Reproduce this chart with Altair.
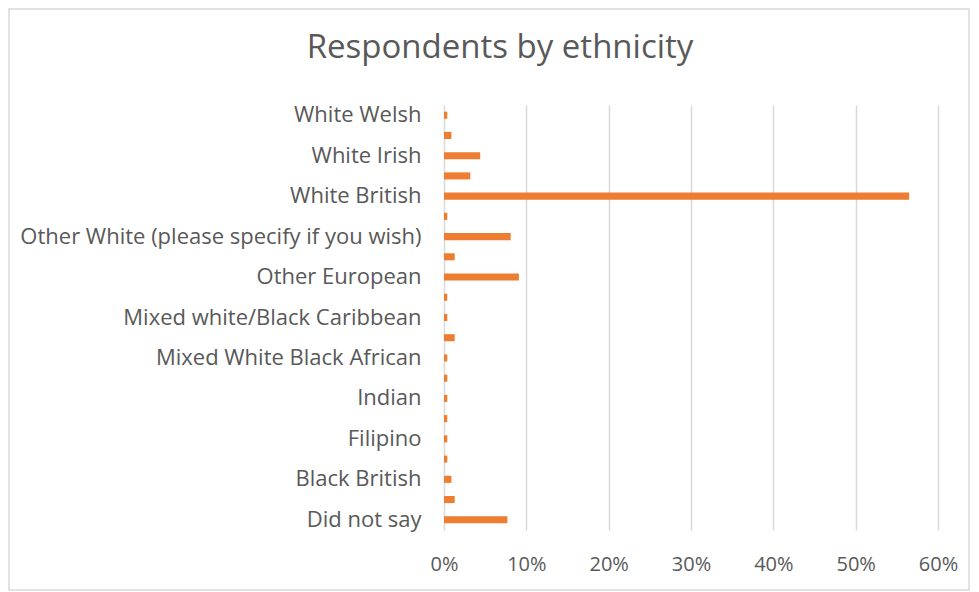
import altair as alt
import pandas as pd

categories = [
    "White Welsh", "White Scottish", "White Irish", "White English", "White British",
    "White Gypsy or Irish Traveller", "Other White (please specify if you wish)", "Other Mixed",
    "Other European", "Other Asian", "Mixed white/Black Caribbean", "Mixed White and Asian",
    "Mixed White Black African", "Japanese", "Indian", "Chinese", "Filipino", "Bangladeshi",
    "Black British", "Black African", "Did not say",
]
shown = [
    "White Welsh", "White Irish", "White British", "Other White (please specify if you wish)",
    "Other European", "Mixed white/Black Caribbean", "Mixed White Black African", "Indian",
    "Filipino", "Black British", "Did not say",
]
values = [0.004, 0.009, 0.044, 0.032, 0.565, 0.004, 0.081, 0.013, 0.091, 0.004, 0.004,
          0.013, 0.004, 0.004, 0.004, 0.004, 0.004, 0.004, 0.009, 0.013, 0.077]
x_ticks = [0, 0.1, 0.2, 0.3, 0.4, 0.5, 0.6]

df = pd.DataFrame({"cat": categories, "val": values})

W, H = 494, 425
FONT = "Open Sans"
GREY = "#595959"

label_expr = "indexof(" + str(shown).replace('"', "'") + ", datum.value) >= 0 ? datum.label : ''"

bars = alt.Chart(df).mark_bar(color="#ED7D31").encode(
    x=alt.X("val:Q", scale=alt.Scale(domain=[0, 0.6], nice=False),
            axis=alt.Axis(values=x_ticks, format=".0%", title=None, grid=True,
                          gridColor="#d9d9d9", gridWidth=1.5, domain=False, ticks=False,
                          labelFont=FONT, labelFontSize=20, labelColor=GREY,
                          labelFlush=False, labelPadding=24)),
    y=alt.Y("cat:N", sort=categories,
            scale=alt.Scale(paddingInner=0.65, paddingOuter=0.33),
            axis=alt.Axis(title=None, domain=False, ticks=False, grid=False,
                          labelExpr=label_expr, labelFont=FONT, labelFontSize=22,
                          labelColor=GREY, labelPadding=23, labelLimit=500)),
)

title = alt.Chart(pd.DataFrame({"t": ["Respondents by ethnicity"]})).mark_text(
    font=FONT, fontSize=33, color=GREY, align="center", baseline="middle"
).encode(x=alt.value(56), y=alt.value(-57), text="t:N")

border = alt.Chart(pd.DataFrame({"a": [0]})).mark_rect(
    fill=None, stroke="#d9d9d9", strokeWidth=1.5
).encode(x=alt.value(-435), x2=alt.value(W + 31), y=alt.value(-96), y2=alt.value(H + 60))

chart = alt.layer(border, bars, title).properties(
    width=W, height=H,
    autosize=alt.AutoSizeParams(type="none"),
    padding={"left": 436, "top": 97, "right": 33, "bottom": 62},
).configure_view(stroke=None)

chart.save("out.html", embed_options={"renderer": "svg", "actions": False})
